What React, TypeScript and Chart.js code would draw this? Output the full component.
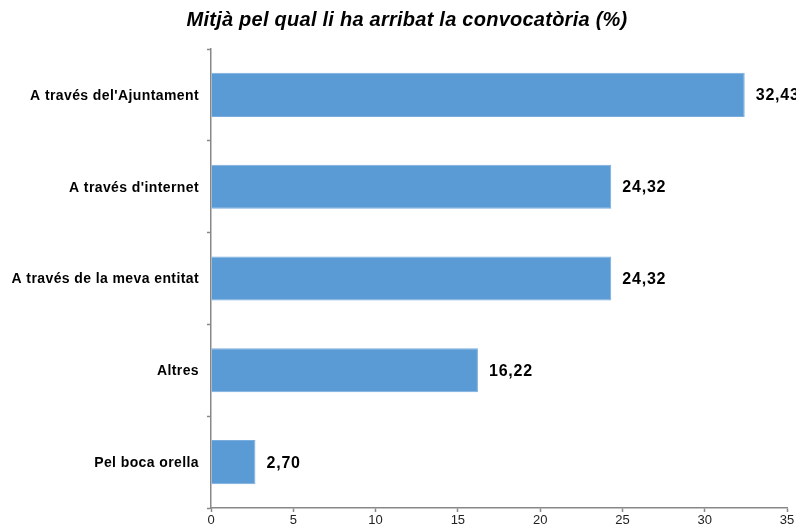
import React, { useEffect, useRef } from "react";
import { Chart, registerables } from "chart.js";

Chart.register(...registerables);

const categories = [
  "A través del'Ajuntament",
  "A través d'internet",
  "A través de la meva entitat",
  "Altres",
  "Pel boca orella",
];
const values = [32.43, 24.32, 24.32, 16.22, 2.7];
const xTicks = [0, 5, 10, 15, 20, 25, 30, 35];
const titleText = "Mitjà pel qual li ha arribat la convocatòria (%)";

const FONT = "'Liberation Sans', Arial, sans-serif";

export default function App() {
  const ref = useRef<HTMLCanvasElement | null>(null);

  useEffect(() => {
    if (!ref.current) return;
    const textPlugin = {
      id: "customText",
      afterDraw(chart: any) {
        const ctx = chart.ctx;
        ctx.save();
        // title
        ctx.font = `italic bold 20px ${FONT}`;
        (ctx as any).letterSpacing = "0.25px";
        ctx.fillStyle = "#000";
        ctx.textAlign = "center";
        ctx.textBaseline = "middle";
        ctx.fillText(titleText, chart.width / 2 + 9, 20);
        // category labels
        const yScale = chart.scales.y;
        ctx.font = `bold 14px ${FONT}`;
        (ctx as any).letterSpacing = "0.4px";
        ctx.textAlign = "right";
        categories.forEach((c, i) => {
          ctx.fillText(c, yScale.right - 12, yScale.getPixelForValue(i) + 1);
        });
        ctx.restore();
      },
      afterDatasetsDraw(chart: any) {
        const ctx = chart.ctx;
        const meta = chart.getDatasetMeta(0);
        ctx.save();
        ctx.font = `bold 16px ${FONT}`;
        (ctx as any).letterSpacing = "0.8px";
        ctx.fillStyle = "#000";
        ctx.textAlign = "left";
        ctx.textBaseline = "middle";
        meta.data.forEach((el: any, i: number) => {
          const txt = values[i].toFixed(2).replace(".", ",");
          ctx.fillText(txt, el.x + 11, el.y + 1);
        });
        ctx.restore();
      },
    };
    const chart = new Chart(ref.current, {
      type: "bar",
      data: {
        labels: categories,
        datasets: [
          {
            data: values,
            backgroundColor: "#5B9BD5",
            borderColor: "#7AADDD",
            borderWidth: 1,
            barPercentage: 0.48,
            categoryPercentage: 1,
          },
        ],
      },
      options: {
        indexAxis: "y",
        animation: false,
        responsive: false,
        maintainAspectRatio: false,
        layout: { padding: { top: 49, right: 9, left: 0, bottom: 0 } },
        plugins: {
          legend: { display: false },
          title: { display: false },
          tooltip: { enabled: false },
        },
        scales: {
          x: {
            type: "linear",
            min: 0,
            max: 35,
            afterBuildTicks(scale: any) {
              scale.ticks = xTicks.map((v) => ({ value: v }));
            },
            afterFit(scale: any) {
              scale.height = 21;
            },
            grid: {
              drawOnChartArea: false,
              drawTicks: true,
              tickLength: 4,
              tickColor: "#888",
              tickWidth: 1.5,
            },
            border: { color: "#888", width: 1.5 },
            ticks: {
              color: "#222",
              padding: 1,
              maxRotation: 0,
              font: { family: FONT, size: 13 },
            },
          },
          y: {
            type: "category",
            offset: true,
            afterFit(scale: any) {
              scale.width = 211;
            },
            grid: {
              offset: true,
              drawOnChartArea: false,
              drawTicks: true,
              tickLength: 4,
              tickColor: "#888",
              tickWidth: 1.5,
            },
            border: { color: "#888", width: 1.5 },
            ticks: { display: false },
          },
        },
      },
      plugins: [textPlugin],
    });
    return () => chart.destroy();
  }, []);

  return (
    <div style={{ position: "fixed", left: 0, top: 0, width: 796, height: 529, background: "#fff" }}>
      <canvas ref={ref} width={796} height={529} style={{ width: 796, height: 529, display: "block" }} />
    </div>
  );
}
